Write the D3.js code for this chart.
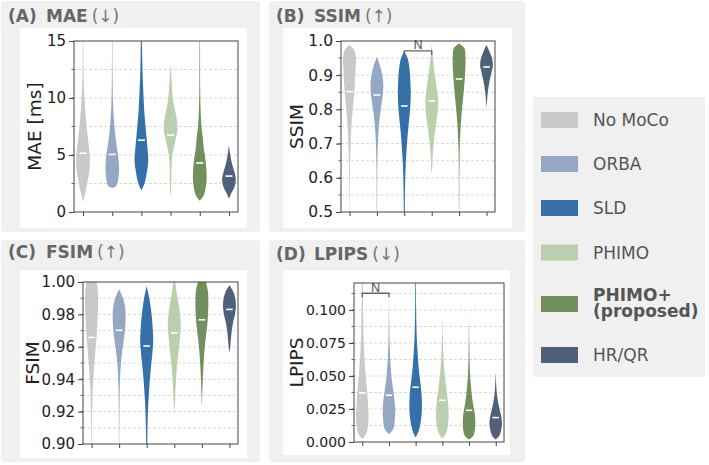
<!DOCTYPE html>
<html>
<head>
<meta charset="utf-8">
<script src="https://cdn.jsdelivr.net/npm/d3@7"></script>
<style>
  body { margin: 0; background: #fff; }
  svg { display: block; font-family: "DejaVu Sans", sans-serif; }
</style>
</head>
<body>
<svg id="chart" width="709" height="465"></svg>
<script>
// methods and colours
const methods = ["No MoCo", "ORBA", "SLD", "PHIMO", "PHIMO+", "HR/QR"];
const colors = ["#c9c9c9", "#95a8c3", "#3570a9", "#b9cfad", "#72905e", "#4f6079"];

// violin outlines: [value, relative half width]
const maeViolins = [
  [[0.9,0],[1.5,0.25],[2.5,0.6],[3.5,0.9],[4.5,1],[5.5,0.9],[6.5,0.7],[8,0.45],[10,0.2],[12,0.08],[15,0.04],[16,0.03]],
  [[2.1,0],[2.3,0.6],[3,0.9],[4,1],[5,0.85],[6,0.6],[7,0.4],[8.5,0.2],[10,0.1],[12,0.05],[15,0.03],[16,0.03]],
  [[1.9,0],[2.5,0.45],[3.5,0.8],[4.5,1],[5.5,0.9],[6.5,0.75],[7.5,0.6],[9,0.4],[10.5,0.28],[12,0.18],[13.5,0.12],[15,0.08],[16,0.06]],
  [[1.3,0],[2,0.08],[3.5,0.12],[5,0.25],[6,0.6],[7,0.95],[7.5,1],[8.5,0.8],[9.5,0.45],[10.5,0.25],[12,0.1],[13,0]],
  [[1,0],[1.5,0.6],[2.5,0.95],[3.2,1],[4.5,0.85],[5.5,0.6],[6.5,0.45],[7.5,0.25],[9,0.12],[11,0.06],[15,0.04],[16,0.03]],
  [[1.15,0],[1.6,0.3],[2.2,0.8],[2.8,1],[3.5,0.8],[4.2,0.45],[5,0.2],[5.85,0]]
];
const maeMedians = [5.15, 5.05, 6.3, 6.75, 4.3, 3.15];

const ssimViolins = [
  [[0.988,0],[0.975,0.7],[0.95,1],[0.92,0.95],[0.88,0.85],[0.84,0.7],[0.8,0.5],[0.75,0.3],[0.7,0.18],[0.65,0.1],[0.6,0.06],[0.5,0.03],[0.48,0.03]],
  [[0.954,0],[0.93,0.45],[0.9,0.85],[0.87,1],[0.84,0.9],[0.8,0.6],[0.76,0.35],[0.72,0.2],[0.68,0.12],[0.62,0.06],[0.5,0.03],[0.48,0.03]],
  [[0.97,0],[0.95,0.5],[0.92,0.8],[0.88,0.95],[0.84,1],[0.8,0.9],[0.76,0.7],[0.72,0.5],[0.68,0.35],[0.64,0.22],[0.6,0.15],[0.55,0.1],[0.5,0.08],[0.48,0.07]],
  [[0.988,0],[0.96,0.15],[0.93,0.3],[0.9,0.5],[0.86,0.8],[0.82,1],[0.78,0.85],[0.74,0.55],[0.7,0.3],[0.66,0.15],[0.62,0.05],[0.612,0]],
  [[0.993,0],[0.98,0.8],[0.95,1],[0.91,0.95],[0.87,0.8],[0.83,0.6],[0.79,0.4],[0.75,0.25],[0.7,0.12],[0.65,0.07],[0.58,0.04],[0.5,0.03],[0.48,0.03]],
  [[0.988,0],[0.97,0.45],[0.95,0.85],[0.93,1],[0.91,0.8],[0.88,0.45],[0.85,0.2],[0.83,0.1],[0.806,0]]
];
const ssimMedians = [0.852, 0.842, 0.81, 0.825, 0.889, 0.924];

const fsimViolins = [
  [[1.004,0.6],[0.995,0.95],[0.985,1],[0.975,0.9],[0.965,0.75],[0.955,0.55],[0.945,0.35],[0.935,0.2],[0.925,0.12],[0.915,0.07],[0.9,0.04],[0.89,0.02]],
  [[0.9955,0],[0.99,0.6],[0.985,0.9],[0.978,1],[0.97,0.9],[0.962,0.65],[0.955,0.4],[0.945,0.2],[0.935,0.1],[0.92,0.05],[0.9,0.03],[0.89,0.03]],
  [[0.9975,0],[0.99,0.4],[0.98,0.75],[0.97,0.95],[0.963,1],[0.955,0.85],[0.945,0.6],[0.935,0.4],[0.925,0.25],[0.915,0.15],[0.905,0.1],[0.895,0.07],[0.89,0.06]],
  [[1.003,0.1],[0.995,0.3],[0.988,0.6],[0.98,0.9],[0.973,1],[0.965,0.85],[0.955,0.6],[0.945,0.35],[0.935,0.2],[0.925,0.1],[0.918,0]],
  [[1.003,0.4],[0.995,0.9],[0.988,1],[0.98,0.95],[0.972,0.8],[0.964,0.55],[0.955,0.35],[0.945,0.2],[0.935,0.1],[0.923,0]],
  [[0.998,0],[0.994,0.6],[0.99,0.9],[0.985,1],[0.98,0.85],[0.975,0.55],[0.968,0.3],[0.96,0.12],[0.956,0]]
];
const fsimMedians = [0.9658, 0.9702, 0.9605, 0.9686, 0.9767, 0.9831];

const lpipsViolins = [
  [[0.002,0],[0.006,0.6],[0.012,0.9],[0.02,1],[0.03,0.9],[0.04,0.75],[0.05,0.55],[0.06,0.4],[0.07,0.28],[0.08,0.2],[0.09,0.15],[0.1,0.12],[0.11,0.1],[0.125,0.08]],
  [[0.0058,0],[0.01,0.7],[0.018,0.95],[0.025,1],[0.035,0.8],[0.045,0.5],[0.055,0.3],[0.065,0.18],[0.075,0.1],[0.09,0.05],[0.11,0]],
  [[0.0035,0],[0.008,0.45],[0.015,0.8],[0.025,1],[0.035,0.95],[0.045,0.75],[0.055,0.5],[0.065,0.35],[0.075,0.22],[0.085,0.14],[0.1,0.08],[0.125,0.05]],
  [[0.0025,0],[0.007,0.6],[0.015,0.95],[0.022,1],[0.03,0.9],[0.04,0.65],[0.05,0.4],[0.06,0.22],[0.07,0.12],[0.08,0.07],[0.096,0]],
  [[0.0018,0],[0.005,0.7],[0.01,0.95],[0.015,1],[0.022,0.9],[0.03,0.6],[0.04,0.35],[0.05,0.18],[0.06,0.1],[0.075,0.05],[0.098,0]],
  [[0.0018,0],[0.005,0.6],[0.01,0.9],[0.014,1],[0.02,0.85],[0.027,0.5],[0.035,0.22],[0.042,0.1],[0.053,0]]
];
const lpipsMedians = [0.0372, 0.0354, 0.0415, 0.0316, 0.024, 0.0185];

// tick labels
const maeTicks = [0, 5, 10, 15];
const ssimTicks = [0.5, 0.6, 0.7, 0.8, 0.9, 1.0];
const fsimTicks = [0.90, 0.92, 0.94, 0.96, 0.98, 1.00];
const lpipsTicks = [0, 0.025, 0.05, 0.075, 0.1];

// significance brackets: [from index, to index, value]
const ssimBrackets = [[2, 3, 0.971]];
const lpipsBrackets = [[0, 1, 0.1127]];

const svg = d3.select("#chart");

const panels = [
  { id: "A", name: "MAE", arrow: "(↓)", label: "MAE [ms]", violins: maeViolins, medians: maeMedians,
    ticks: maeTicks, fmt: d3.format("d"), domain: [0, 15], gridStep: 2.5, brackets: [],
    box: [1, 1, 259, 231], inner: [20, 28, 227, 200], plot: [74, 41, 238, 212],
    titleY: 22, labelX: 34, fs: 15 },
  { id: "B", name: "SSIM", arrow: "(↑)", label: "SSIM", violins: ssimViolins, medians: ssimMedians,
    ticks: ssimTicks, fmt: d3.format(".1f"), domain: [0.5, 1.0], gridStep: 0.05, brackets: ssimBrackets,
    box: [269, 1, 256, 231], inner: [283, 28, 229, 200], plot: [341, 41, 495, 212],
    titleY: 22, labelX: 296, fs: 15.5 },
  { id: "C", name: "FSIM", arrow: "(↑)", label: "FSIM", violins: fsimViolins, medians: fsimMedians,
    ticks: fsimTicks, fmt: d3.format(".2f"), domain: [0.9, 1.0], gridStep: 0.01, brackets: [],
    box: [1, 240, 259, 222], inner: [20, 270, 227, 188], plot: [83, 282, 238, 444],
    titleY: 258, labelX: 32, fs: 15 },
  { id: "D", name: "LPIPS", arrow: "(↓)", label: "LPIPS", violins: lpipsViolins, medians: lpipsMedians,
    ticks: lpipsTicks, fmt: d3.format(".3f"), domain: [0, 0.1205], gridStep: 0.0125, brackets: lpipsBrackets,
    box: [269, 240, 256, 222], inner: [283, 270, 227, 185], plot: [354, 283, 504, 442],
    titleY: 260, labelX: 296, fs: 14 }
];

panels.forEach(p => {
  const [px0, py0, px1, py1] = p.plot;

  // grey card and white figure area
  svg.append("rect").attr("x", p.box[0]).attr("y", p.box[1]).attr("width", p.box[2]).attr("height", p.box[3])
    .attr("rx", 4).attr("fill", "#f0f0f0");
  svg.append("rect").attr("x", p.inner[0]).attr("y", p.inner[1]).attr("width", p.inner[2]).attr("height", p.inner[3])
    .attr("fill", "#fff");

  // title: "(A)  MAE (↓)"
  const tx0 = p.box[0] + 7;
  const t = svg.append("g").attr("fill", "#666").attr("font-size", 17);
  t.append("text").attr("x", tx0).attr("y", p.titleY).attr("font-weight", "bold").text(`(${p.id})`);
  const nm = t.append("text").attr("x", tx0 + 38).attr("y", p.titleY).attr("font-weight", "bold").text(p.name);
  const nameEnd = tx0 + 38 + nm.node().getComputedTextLength();
  t.append("text").attr("x", nameEnd + 4).attr("y", p.titleY).attr("fill", "#777").text(p.arrow);

  const x = d3.scalePoint().domain(methods).range([px0, px1]).padding(0.31);
  const y = d3.scaleLinear().domain(p.domain).range([py1, py0]);
  const step = x.step();

  const g = svg.append("g");

  // dashed grid at half-tick steps
  const gridVals = d3.range(p.domain[0] + p.gridStep, p.domain[1] - 1e-9, p.gridStep);
  g.selectAll("line.grid").data(gridVals).enter().append("line")
    .attr("x1", px0).attr("x2", px1)
    .attr("y1", d => y(d)).attr("y2", d => y(d))
    .attr("stroke", "#cfcfcf").attr("stroke-width", 0.8).attr("stroke-dasharray", "3,2");

  // violins
  const clipId = "clip" + p.id;
  svg.append("clipPath").attr("id", clipId).append("rect")
    .attr("x", px0).attr("y", py0).attr("width", px1 - px0).attr("height", py1 - py0);
  const vg = g.append("g").attr("clip-path", `url(#${clipId})`);
  const half = step * 0.235;
  p.violins.forEach((pts, i) => {
    const cx = x(methods[i]);
    const area = d3.area()
      .curve(d3.curveCatmullRom)
      .y(d => y(d[0]))
      .x0(d => cx - d[1] * half)
      .x1(d => cx + d[1] * half);
    vg.append("path").datum(pts).attr("d", area).attr("fill", colors[i]);
    vg.append("line")
      .attr("x1", cx - step * 0.12).attr("x2", cx + step * 0.12)
      .attr("y1", y(p.medians[i])).attr("y2", y(p.medians[i]))
      .attr("stroke", "#fff").attr("stroke-width", 1.6);
  });

  // brackets
  p.brackets.forEach(b => {
    const xa = x(methods[b[0]]), xb = x(methods[b[1]]), yb = y(b[2]);
    g.append("path")
      .attr("d", `M${xa},${yb + 4}V${yb}H${xb}V${yb + 4}`)
      .attr("fill", "none").attr("stroke", "#666").attr("stroke-width", 1.4);
    g.append("text").attr("x", (xa + xb) / 2).attr("y", yb - 1.5).attr("text-anchor", "middle")
      .attr("font-size", 13).attr("fill", "#666").text("N");
  });

  // axes
  const yAxis = d3.axisLeft(y).tickValues(p.ticks).tickFormat(p.fmt).tickSizeOuter(0).tickSize(5).tickPadding(3);
  const ya = g.append("g").attr("transform", `translate(${px0},0)`).call(yAxis);
  ya.select(".domain").remove();
  ya.selectAll("text").attr("font-size", p.fs).attr("fill", "#222").attr("font-family", "DejaVu Sans");
  ya.selectAll("line").attr("stroke", "#444");

  // minor ticks
  g.selectAll("line.minor").data(gridVals).enter().append("line")
    .attr("x1", px0 - 2.5).attr("x2", px0).attr("y1", d => y(d)).attr("y2", d => y(d))
    .attr("stroke", "#444").attr("stroke-width", 0.8);

  const xAxis = d3.axisBottom(x).tickFormat("").tickSize(4).tickSizeOuter(0);
  const xa = g.append("g").attr("transform", `translate(0,${py1})`).call(xAxis);
  xa.select(".domain").remove();
  xa.selectAll("line").attr("stroke", "#444");

  g.append("rect").attr("x", px0).attr("y", py0).attr("width", px1 - px0).attr("height", py1 - py0)
    .attr("fill", "none").attr("stroke", "#444").attr("stroke-width", 1);

  // y label
  g.append("text")
    .attr("transform", `translate(${p.labelX},${(py0 + py1) / 2}) rotate(-90)`)
    .attr("text-anchor", "middle").attr("dominant-baseline", "central")
    .attr("font-size", 18.5).attr("fill", "#222").text(p.label);
});

// legend
svg.append("rect").attr("x", 533).attr("y", 97).attr("width", 172).attr("height", 280).attr("fill", "#f0f0f0");
const legendY = [120, 164, 208, 252.5, 304, 355];
const lg = svg.append("g");
methods.forEach((m, i) => {
  lg.append("rect").attr("x", 541).attr("y", legendY[i] - 8).attr("width", 37).attr("height", 16)
    .attr("fill", colors[i]);
  if (m === "PHIMO+") {
    const tx = lg.append("text").attr("x", 593).attr("y", legendY[i] - 3)
      .attr("font-size", 17).attr("font-weight", "bold").attr("fill", "#555");
    tx.append("tspan").attr("x", 593).text("PHIMO+");
    tx.append("tspan").attr("x", 593).attr("dy", 16).text("(proposed)");
  } else {
    lg.append("text").attr("x", 593).attr("y", legendY[i]).attr("dominant-baseline", "central")
      .attr("font-size", 17).attr("fill", "#555").text(m);
  }
});
</script>
</body>
</html>
